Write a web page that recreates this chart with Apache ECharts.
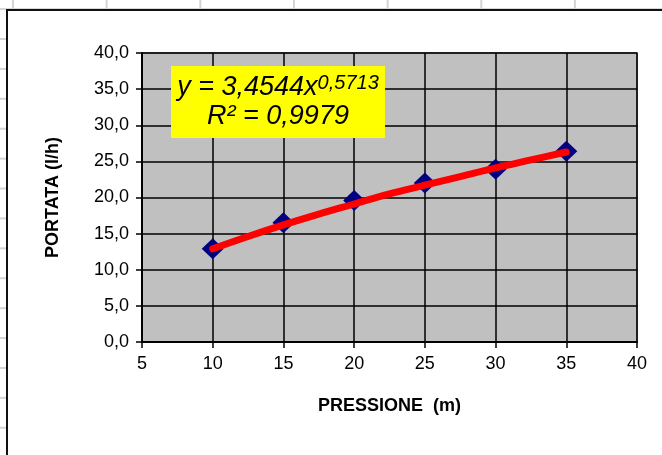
<!DOCTYPE html>
<html>
<head>
<meta charset="utf-8">
<script src="https://cdn.jsdelivr.net/npm/echarts@6/dist/echarts.min.js"></script>
<style>
html,body{margin:0;padding:0;}
body{width:662px;height:455px;overflow:hidden;position:relative;background:#fff;}
#bg{position:absolute;left:0;top:0;width:662px;height:455px;
background-image:linear-gradient(to right,#d4d4d4 2px,transparent 2px),linear-gradient(to bottom,#d4d4d4 2px,transparent 2px);
background-size:93.67px 29.92px;background-position:12px 38px;}
#frame{position:absolute;left:6px;top:9px;width:700px;height:500px;background:#fff;border:2px solid #111;}
#chart{position:absolute;left:0;top:0;width:662px;height:455px;}
</style>
</head>
<body>
<div id="bg"></div>
<div id="frame"></div>
<div id="chart"></div>
<script>
// Measured data (PRESSIONE in m, PORTATA in l/h)
const pressione = [10, 15, 20, 25, 30, 35];
const portata = [12.9, 16.5, 19.6, 22.0, 23.9, 26.4];
// Power trendline
const trendX = [10, 12.5, 15, 17.5, 20, 22.5, 25, 27.5, 30, 32.5, 35];
const trendY = [12.9, 14.6, 16.2, 17.7, 19.1, 20.5, 21.7, 22.9, 24.1, 25.2, 26.3];
// Axis titles / annotation texts
const xTitle = 'PRESSIONE  (m)';
const yTitle = 'PORTATA (l/h)';
const eqLine1 = 'y = 3,4544x';
const eqExp = '0,5713';
const eqLine2 = 'R² = 0,9979';

const FONT = '"Liberation Sans", Arial, sans-serif';
const chart = echarts.init(document.getElementById('chart'), null, {renderer: 'canvas'});
const option = {
  backgroundColor: 'transparent',
  animation: false,
  grid: {
    left: 142, top: 53, right: 25, bottom: 113,
    show: true, backgroundColor: '#C0C0C0', borderColor: '#808080', borderWidth: 2
  },
  xAxis: {
    type: 'value', min: 5, max: 40, interval: 5,
    name: xTitle, nameLocation: 'middle', nameGap: 55,
    nameTextStyle: {fontFamily: FONT, fontWeight: 'bold', fontSize: 18, color: '#000'},
    axisLine: {show: true, onZero: false, lineStyle: {color: '#000', width: 2}},
    axisTick: {show: true, inside: false, length: 6, lineStyle: {color: '#000', width: 1.5}},
    axisLabel: {fontFamily: FONT, fontSize: 18, color: '#000', margin: 13},
    splitLine: {show: true, lineStyle: {color: '#000', width: 1.5}}
  },
  yAxis: {
    type: 'value', min: 0, max: 40, interval: 5,
    name: yTitle, nameLocation: 'middle', nameGap: 80,
    nameTextStyle: {fontFamily: FONT, fontWeight: 'bold', fontSize: 18, color: '#000'},
    axisLine: {show: true, onZero: false, lineStyle: {color: '#000', width: 2}},
    axisTick: {show: true, inside: false, length: 6, lineStyle: {color: '#000', width: 1.5}},
    axisLabel: {fontFamily: FONT, fontSize: 18, color: '#000', margin: 13,
      formatter: v => v.toFixed(1).replace('.', ',')},
    splitLine: {show: true, lineStyle: {color: '#000', width: 1.5}}
  },
  series: [
    {
      type: 'scatter', name: 'PORTATA',
      data: pressione.map((x, i) => [x, portata[i]]),
      symbol: 'diamond', symbolSize: [22, 21],
      itemStyle: {color: '#000080', opacity: 1}, z: 2
    },
    {
      type: 'line', name: 'trend',
      data: trendX.map((x, i) => [x, trendY[i]]),
      smooth: 0.4, showSymbol: false, symbol: 'none',
      lineStyle: {color: '#FF0000', width: 7, cap: 'round'}, z: 3
    }
  ],
  graphic: [
    {
      type: 'rect', left: 171, top: 66, z: 10,
      shape: {width: 214, height: 72},
      style: {fill: '#FFFF00'}
    },
    {
      type: 'text', z: 11, x: 278, y: 73,
      style: {
        text: '{a|' + eqLine1 + '}{s|' + eqExp + '}\n{a|' + eqLine2 + '}',
        align: 'center', verticalAlign: 'top',
        rich: {
          a: {fontFamily: FONT, fontStyle: 'italic', fontSize: 27, lineHeight: 29, fill: '#000'},
          s: {fontFamily: FONT, fontStyle: 'italic', fontSize: 20, lineHeight: 18, verticalAlign: 'top', fill: '#000'}
        }
      }
    }
  ]
};
chart.setOption(option);
</script>
</body>
</html>
